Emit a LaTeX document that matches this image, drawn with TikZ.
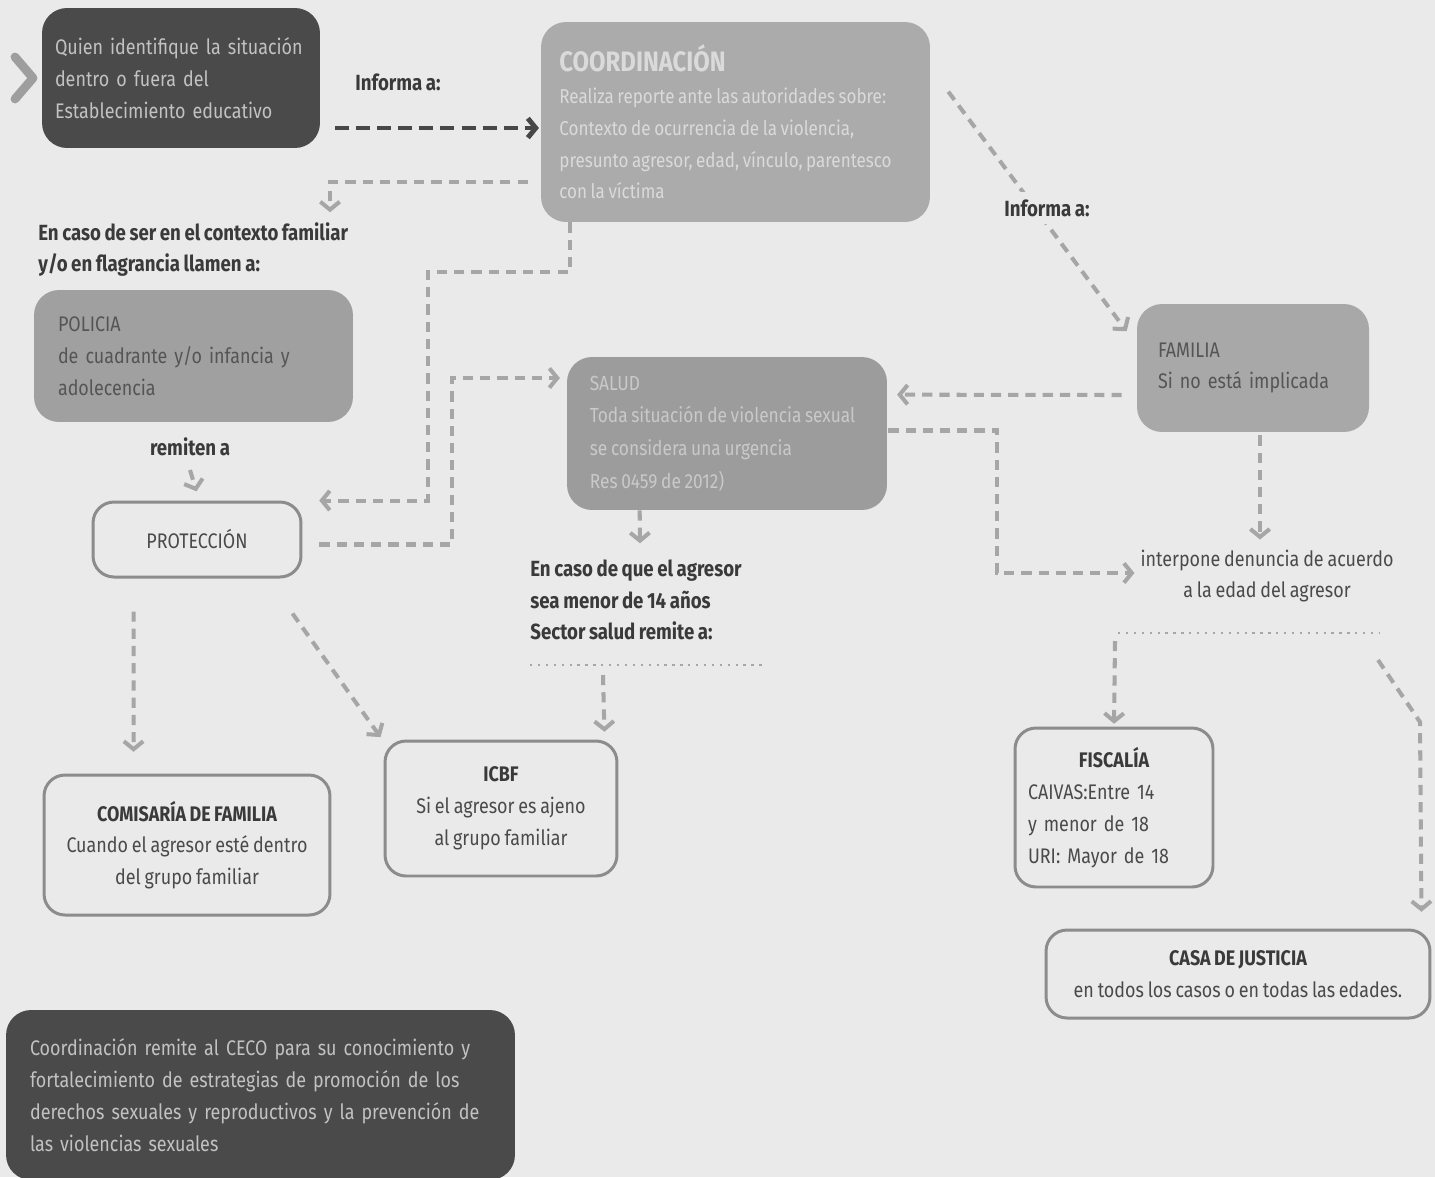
\documentclass[tikz,border=0pt]{standalone}
\usepackage{fontspec}
\setmainfont{Fira Sans}[FakeStretch=0.85, WordSpace=0.8]
\usetikzlibrary{arrows.meta,calc}
\definecolor{bg}{HTML}{EAEAEA}
\definecolor{darkbox}{HTML}{4A4A4A}
\definecolor{darktxt}{HTML}{C2C2C2}
\definecolor{coordfill}{HTML}{ABABAB}
\definecolor{coordtxt}{HTML}{DADADA}
\definecolor{polfill}{HTML}{A0A0A0}
\definecolor{midtxt}{HTML}{555555}
\definecolor{saludfill}{HTML}{9C9C9C}
\definecolor{saludtxt}{HTML}{C9C9C9}
\definecolor{famfill}{HTML}{A8A8A8}
\definecolor{outline}{HTML}{8C8C8C}
\definecolor{boxtxt}{HTML}{4A4A4A}
\definecolor{lbltxt}{HTML}{3A3A3A}
\definecolor{conncol}{HTML}{A6A6A6}
\definecolor{darkconn}{HTML}{474747}
\definecolor{chev}{HTML}{9E9E9E}
\newcommand{\bodyfont}{\fontsize{12}{18.1}\selectfont}
\newcommand{\smallbody}{\fontsize{11.4}{18.1}\selectfont}
\newcommand{\saludbody}{\fontsize{11.6}{18.6}\selectfont}
\newcommand{\lblfont}{\fontsize{12.5}{18.1}\selectfont\bfseries}
\tikzset{
  filledbox/.style={rounded corners=0.5cm, inner ysep=0pt, font=\bodyfont, align=left},
  outbox/.style={draw=outline, line width=1.7pt, rounded corners=0.42cm, inner sep=0pt,
                 font=\bodyfont, text=boxtxt, align=center},
  lbl/.style={inner sep=0pt, font=\lblfont, text=lbltxt, align=left},
  conn/.style={draw=conncol, line width=2.3pt, dash pattern=on 5.8pt off 4pt},
  darkline/.style={draw=darkconn, line width=2.8pt, dash pattern=on 8pt off 4pt},
  dotline/.style={draw=conncol, line width=1.6pt, dash pattern=on 1.3pt off 3.2pt},
  tip/.style={-{Straight Barb[length=4.5pt,width=11pt]}, shorten >=1pt},
}
\begin{document}
\begin{tikzpicture}[x=0.02cm,y=-0.02cm]
\fill[bg] (0,0) rectangle (1435,1177);
\path[use as bounding box] (0,0) rectangle (1435,1177);
\clip (0,0) rectangle (1435,1177);

% decorative chevron
\draw[chev, line width=5pt, line cap=round, line join=round] (15,57) -- (33,78) -- (15,99);

% boxes
\node[filledbox, fill=darkbox, text=darktxt, minimum width=5.56cm, minimum height=2.8cm,
      inner xsep=0.26cm, text width=5.04cm] (quien) at (181,78)
  {Quien identifique la situación\\dentro o fuera del\\Establecimiento educativo};

\node[filledbox, fill=coordfill, text=coordtxt, minimum width=7.78cm, minimum height=4.0cm,
      inner xsep=0pt, font=\smallbody] (coord) at (735.5,122)
  {{\fontsize{16}{18}\selectfont\bfseries COORDINACIÓN}\\Realiza reporte ante las autoridades sobre:\\Contexto de ocurrencia de la violencia,\\presunto agresor, edad, vínculo, parentesco\rule{0.4cm}{0pt}\\con la víctima};

\node[filledbox, fill=polfill, text=midtxt, minimum width=6.38cm, minimum height=2.64cm,
      inner xsep=0.48cm, text width=5.42cm] (pol) at (193.5,356)
  {POLICIA\\de cuadrante y/o infancia y\\adolecencia};

\node[outbox, minimum width=4.16cm, minimum height=1.5cm] (prot) at (197,539.5) {PROTECCIÓN};

\node[filledbox, fill=saludfill, text=saludtxt, minimum width=6.4cm, minimum height=3.06cm,
      inner xsep=0pt, font=\saludbody] (salud) at (727,433.5)
  {SALUD\\Toda situación de violencia sexual\rule{0.18cm}{0pt}\\se considera una urgencia\\Res 0459 de 2012)};

\node[filledbox, fill=famfill, text=midtxt, minimum width=4.64cm, minimum height=2.56cm,
      inner xsep=0.42cm, text width=3.8cm] (fam) at (1253,368)
  {FAMILIA\\Si no está implicada};

\node[outbox, align=left, minimum width=3.96cm, minimum height=3.18cm,
      inner xsep=0.26cm, text width=3.44cm] (fisc) at (1114,807.5)
  {\makebox[\linewidth]{\bfseries\color{lbltxt}FISCALÍA}\\CAIVAS:Entre 14\\y menor de 18\\URI: Mayor de 18};

\node[outbox, minimum width=7.68cm, minimum height=1.76cm] (casa) at (1238,974)
  {{\bfseries\color{lbltxt}CASA DE JUSTICIA}\\en todos los casos o en todas las edades.};

\node[outbox, minimum width=5.72cm, minimum height=2.8cm] (com) at (187,845)
  {{\bfseries\color{lbltxt}COMISARÍA DE FAMILIA}\\Cuando el agresor esté dentro\\del grupo familiar};

\node[outbox, minimum width=4.64cm, minimum height=2.7cm] (icbf) at (501,808.5)
  {{\bfseries\color{lbltxt}ICBF}\\Si el agresor es ajeno\\al grupo familiar};

\node[filledbox, fill=darkbox, text=darktxt, minimum width=10.18cm, minimum height=3.4cm,
      inner xsep=0.48cm, text width=9.22cm] (ceco) at (260.5,1095)
  {Coordinación remite al CECO para su conocimiento y\\fortalecimiento de estrategias de promoción de los\\derechos sexuales y reproductivos y la prevención de\\las violencias sexuales};

% labels
\node[lbl] (inf1) at (398,82) {Informa a:};
\node[lbl, anchor=west] (lblfam) at (38,249.5) {En caso de ser en el contexto familiar\\y/o en flagrancia llamen a:};
\node[lbl] (rem) at (190,447) {remiten a};
\node[inner sep=0pt, font=\bodyfont, text=boxtxt, align=center] (interp) at (1267,576)
  {interpone denuncia de acuerdo\\a la edad del agresor};
\node[lbl, anchor=west] (lblsal) at (530,600) {En caso de que el agresor\\sea menor de 14 años\\Sector salud remite a:};

% free ends and bends
\coordinate (s1) at (335,128);
\coordinate (f2) at (330,214);
\coordinate (v3) at (428,272);
\coordinate (v4) at (452,378);
\coordinate (v6) at (997,573);
\coordinate (d1) at (1118,633);
\coordinate (d2) at (1380,633);
\coordinate (e1) at (1378,660);
\coordinate (e2) at (1420,722);
\coordinate (f11) at (640,545);
\coordinate (d3) at (530,665);
\coordinate (d4) at (765,665);
\coordinate (fr) at (190,470);
\coordinate (tr) at (190,493);

% connectors
\draw[darkline, tip] (s1) -- (coord.west |- s1);
\draw[conn, tip] ($(coord.west)+(-13,60)$) -| (f2);
\draw[conn, tip] ($(coord.south west)+(29,0)$) |- (v3) |- ($(prot.north east)+(15,0)$);
\draw[conn, tip] ($(prot.east)+(17,5)$) -| (v4) -- ($(salud.west |- v4)+(-5,0)$);
\draw[conn, tip] ($(fam.west)+(-15,27)$) -- ($(salud.north east)+(8,38)$);
\draw[conn, tip] ($(salud.east)+(1,-3)$) -| (v6) -- ($(interp.west |- v6)+(-4,0)$);
\draw[conn, tip] ($(fam.south)+(7,3)$) coordinate (t7) -- ($(interp.north -| t7)+(0,-8)$);
\draw[dotline] (d1) -- (d2);
\draw[conn, tip] ($(d1)+(-3,8)$) -- ($(fisc.north)+(0,-1)$);
\draw[conn, tip] (e1) -- (e2) -- ($(casa.north east)+(-10,-15)$);
\draw[conn, tip] ($(salud.south west)+(73,0)$) -- (f11);
\draw[dotline] (d3) -- (d4);
\draw[conn, tip] ($(d3)+(73,10)$) -- ($(icbf.north east)+(-14,-6)$);
\draw[conn, tip] ($(prot.south west)+(42,33)$) -- ($(com.north west)+(91,-20)$);
\draw[conn, tip] ($(prot.south east)+(-10,35)$) -- ($(icbf.north west)+(-2,-1)$);
\draw[conn, tip] (rem.south |- fr) -- (prot.north |- tr);
\draw[conn, tip] ($(coord.north east)+(18,70)$) -- ($(fam.north west)+(-9,29)$);
\node[lbl, fill=bg, inner sep=4pt] (inf2) at (1047,208) {Informa a:};
\end{tikzpicture}
\end{document}
